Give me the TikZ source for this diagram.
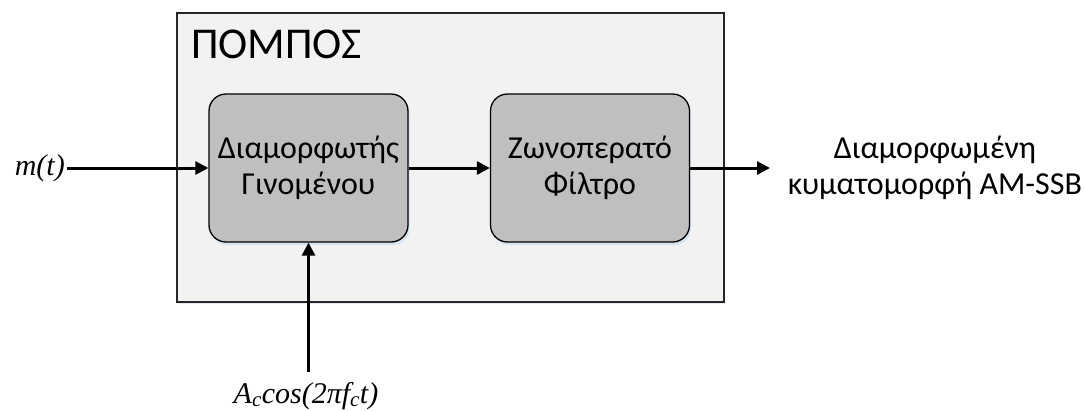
\documentclass[tikz,border=0pt]{standalone}
\usepackage{fontspec}
\setmainfont{Carlito}
\newfontfamily\serifit{Liberation Serif}
\usetikzlibrary{arrows.meta,shadows}

\definecolor{panelfill}{HTML}{F2F2F2}
\definecolor{panelline}{HTML}{262626}
\definecolor{blockfill}{HTML}{BFBFBF}
\definecolor{glow}{HTML}{C9DCF0}

\tikzset{
  panel/.style={draw=panelline, line width=1.3pt, fill=panelfill, inner sep=0pt,
    minimum width=547pt, minimum height=289pt,
    drop shadow={shadow xshift=1pt, shadow yshift=-2pt, fill=glow, opacity=0.6}},
  block/.style={draw=black, line width=1.3pt, fill=blockfill, rounded corners=17pt,
    minimum width=199pt, minimum height=148pt, align=center,
    font=\fontsize{32}{36}\selectfont,
    drop shadow={shadow xshift=1.5pt, shadow yshift=-3pt, fill=glow, opacity=0.7}},
  sig/.style={line width=3pt, -{Triangle[length=13pt,width=13pt]}},
  lbl/.style={inner sep=0pt, align=center, font=\fontsize{32}{36}\selectfont},
  mathlbl/.style={inner sep=0pt, font=\serifit\itshape\fontsize{30}{32}\selectfont},
}

\begin{document}
\begin{tikzpicture}[x=1pt, y=-1pt]
  \useasboundingbox (0,0) rectangle (1085,410);

  % transmitter enclosure
  \node[panel] (tx) at (450.5,157.5) {};
  \node[inner sep=0pt, anchor=base west, font=\fontsize{44}{46}\selectfont] (title) at (191,58) {ΠΟΜΠΟΣ};

  % processing blocks
  \node[block] (mod) at (308.5,168) {Διαμορφωτής\\Γινομένου};
  \node[block] (bpf) at (590,168) {Ζωνοπερατό\\Φίλτρο};

  % input message
  \node[mathlbl, anchor=base east] (msg) at (65,175) {m(t)};
  \draw[sig] (mod.west -| msg.east) ++(2,0) coordinate (msgtail) -- (mod.west);

  % carrier input from below
  \node[mathlbl, anchor=base] (car) at (306,403) {A\textsubscript{c}cos(2πf\textsubscript{c}t)};
  \coordinate (cartail) at (308.5,372);
  \draw[sig] (cartail) -- (mod.south);

  % chain between blocks
  \draw[sig] (mod.east) -- (bpf.west);

  % output signal
  \coordinate (outtip) at (770,168);
  \draw[sig] (bpf.east) -- (outtip);
  \node[lbl] (outtxt) at (935,168) {Διαμορφωμένη\\κυματομορφή AM-SSB};
\end{tikzpicture}
\end{document}
